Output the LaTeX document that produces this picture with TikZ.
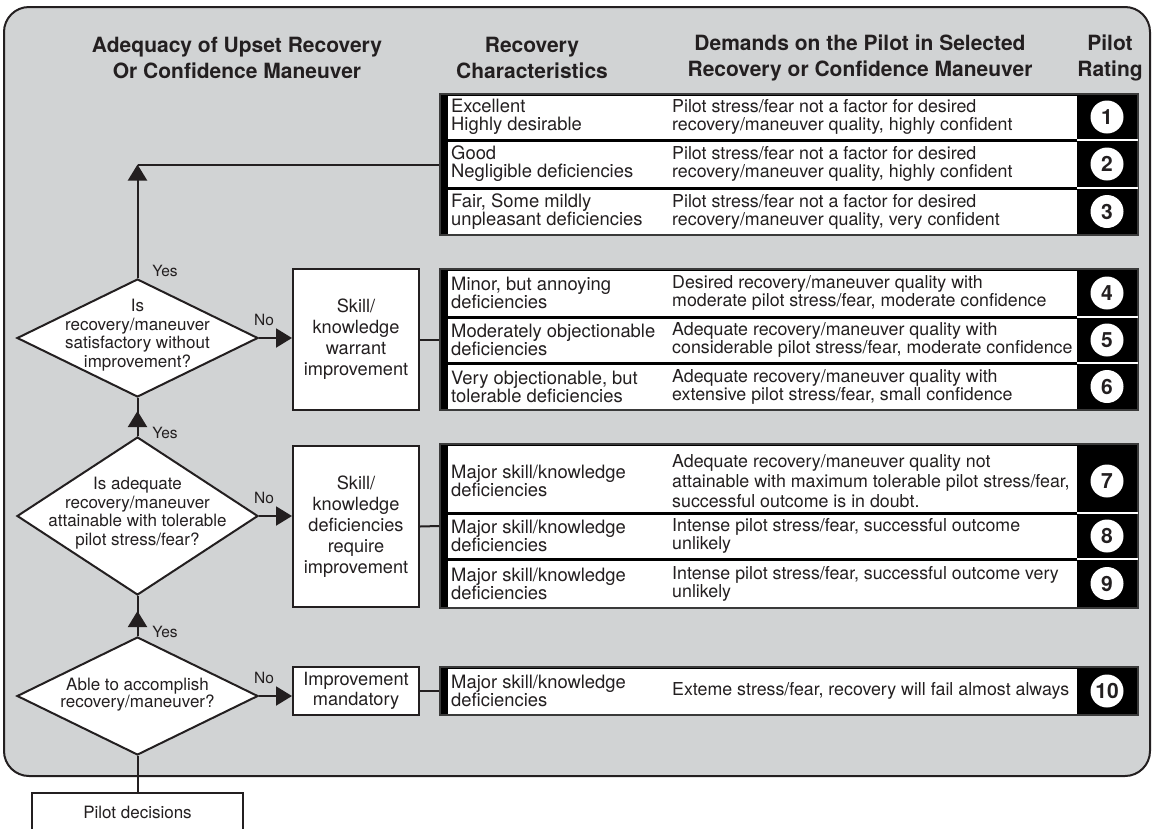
\documentclass[tikz,border=0pt]{standalone}
\usepackage{fontspec}
\setmainfont{TeX Gyre Heros}
\usetikzlibrary{arrows.meta,shapes.geometric}
\definecolor{ink}{HTML}{231F20}
\definecolor{panelgray}{HTML}{D1D3D4}
\definecolor{rimgray}{HTML}{3A3A3A}
% #1 top, #2 bottom, #3 centre, #4 number, #5 first column, #6 second column
\newcommand{\tabrow}[6]{%
  \fill[white] (448,#1+1.5) rectangle (1077,#2-1.5);
  \node[num] at (1107,#3) {#4};
  \node[colA] at (451,#3) {#5};
  \node[colB] at (672,#3) {#6};
}
\begin{document}
\begin{tikzpicture}[x=1pt,y=-1pt,
  ln/.style={draw=ink,line width=2pt},
  arr/.style={ln,-{Triangle[length=16pt,width=19pt]}},
  dia/.style={diamond,draw=ink,line width=2pt,fill=white,inner sep=0pt,minimum width=241pt},
  dtxt/.style={align=center,inner sep=0pt,font=\fontsize{17}{18.7}\selectfont,text=ink},
  sbox/.style={rectangle,draw=ink,line width=2pt,fill=white,inner sep=0pt,minimum width=126pt,align=center,font=\fontsize{18.2}{21}\selectfont,text=ink},
  lbl/.style={font=\fontsize{15.5}{16}\selectfont,text=ink},
  hdr/.style={align=center,inner sep=0pt,font=\bfseries\fontsize{21}{26}\selectfont,text=ink},
  grp/.style={rectangle,fill=black,draw=rimgray,line width=1.5pt,inner sep=0pt,minimum width=698pt},
  num/.style={circle,fill=white,inner sep=0pt,minimum size=33pt,font=\bfseries\fontsize{21}{21}\selectfont,text=ink},
  colA/.style={anchor=west,align=left,inner sep=0pt,font=\fontsize{18.4}{18}\selectfont,text=ink},
  colB/.style={anchor=west,align=left,inner sep=0pt,font=\fontsize{17.8}{18}\selectfont,text=ink},
  sepw/.style={draw=white,line width=1.5pt},
]
\useasboundingbox (0,0) rectangle (1154,828);
\clip (0,0) rectangle (1154,828);

% panel
\draw[ln,fill=panelgray,rounded corners=25pt] (4,7) rectangle (1150,776);

% headings
\node[hdr] (h1) at (237,58) {Adequacy of Upset Recovery\\Or Confidence Maneuver};
\node[hdr] (h2) at (532,58) {Recovery\\Characteristics};
\node[hdr] (h3) at (860,58) {Demands on the Pilot in Selected\\Recovery or Confidence Maneuver};
\node[hdr] (h4) at (1110,58) {Pilot\\Rating};

% table groups
\node[grp,minimum height=141pt] (g1) at (789,164.5) {};
\node[grp,minimum height=141pt] (g2) at (789,339.5) {};
\node[grp,minimum height=164pt] (g3) at (789,526) {};
\node[grp,minimum height=48pt]  (g4) at (789,691) {};

\tabrow{94}{140}{117}{1}{Excellent\\Highly desirable}{Pilot stress/fear not a factor for desired\\recovery/maneuver quality, highly confident}
\tabrow{140}{188}{164}{2}{Good\\Negligible deficiencies}{Pilot stress/fear not a factor for desired\\recovery/maneuver quality, highly confident}
\tabrow{188}{235}{211.5}{3}{Fair, Some mildly\\unpleasant deficiencies}{Pilot stress/fear not a factor for desired\\recovery/maneuver quality, very confident}
\tabrow{269}{317}{293}{4}{Minor, but annoying\\deficiencies}{Desired recovery/maneuver quality with\\moderate pilot stress/fear, moderate confidence}
\tabrow{317}{363}{340}{5}{Moderately objectionable\\deficiencies}{Adequate recovery/maneuver quality with\\considerable pilot stress/fear, moderate confidence}
\tabrow{363}{410}{386.5}{6}{Very objectionable, but\\tolerable deficiencies}{Adequate recovery/maneuver quality with\\extensive pilot stress/fear, small confidence}
\tabrow{444}{513}{481}{7}{Major skill/knowledge\\deficiencies}{}
\node[colB,font=\fontsize{17.8}{20}\selectfont] at (672,481) {Adequate recovery/maneuver quality not\\attainable with maximum tolerable pilot stress/fear,\\successful outcome is in doubt.};
\tabrow{513}{559}{536}{8}{Major skill/knowledge\\deficiencies}{Intense pilot stress/fear, successful outcome\\unlikely}
\tabrow{559}{608}{583.5}{9}{Major skill/knowledge\\deficiencies}{Intense pilot stress/fear, successful outcome very\\unlikely}
\tabrow{667}{715}{691}{10}{Major skill/knowledge\\deficiencies}{Exteme stress/fear, recovery will fail almost always}

\foreach \yy in {140,188,317,363,513,559} \draw[sepw] (1077,\yy) -- (1138,\yy);

% decision diamonds
\node[dia,minimum height=118pt] (d1) at (137.5,338) {};
\node[dtxt] at ([yshift=3pt]d1.center) {Is\\recovery/maneuver\\satisfactory without\\improvement?};
\node[dia,minimum height=158pt] (d2) at (137.5,516) {};
\node[dtxt] at ([yshift=3pt]d2.center) {Is adequate\\recovery/maneuver\\attainable with tolerable\\pilot stress/fear?};
\node[dia,minimum height=118pt] (d3) at (137.5,696) {};
\node[dtxt,font=\fontsize{17}{17}\selectfont] at ([yshift=1pt]d3.center) {Able to accomplish\\recovery/maneuver?};

% improvement boxes
\node[sbox,minimum height=141pt] (b1) at (356,339.5) {Skill/\\knowledge\\warrant\\improvement};
\node[sbox,minimum height=161pt] (b2) at (356,526.5) {Skill/\\knowledge\\deficiencies\\require\\improvement};
\node[sbox,minimum height=48pt,font=\fontsize{18.2}{20}\selectfont] (b3) at (356,691) {Improvement\\mandatory};

% pilot decisions box
\node[sbox,minimum width=211pt,minimum height=72pt,anchor=north] (pd) at (137.5,792) {};
\node[font=\fontsize{17}{18}\selectfont,text=ink] at ([yshift=-20pt]pd.north) {Pilot decisions};

% connectors
\coordinate (tc) at (137.5,164.5);
\draw[ln] (tc) -- (g1.west);
\draw[arr] (d1.north) -- (tc);
\draw[ln] (d2.north) -- (d1.south);
\draw[arr,shorten >=13pt] (d2.north) -- (d1.south);
\draw[ln] (d3.north) -- (d2.south);
\draw[arr,shorten >=15pt] (d3.north) -- (d2.south);
\draw[arr] (d1.east) -- (d1.east -| b1.west);
\draw[arr] (d2.east) -- (d2.east -| b2.west);
\draw[arr] (d3.east) -- (d3.east -| b3.west);
\draw[ln] (b1.east) -- (g2.west);
\draw[ln] (b2.east) -- (g3.west);
\draw[ln] (b3.east) -- (g4.west);
\draw[ln] (pd.north) -- (d3.south);

% labels
\node[lbl] at (165,271) {Yes};
\node[lbl] at (165,433) {Yes};
\node[lbl] at (165,632) {Yes};
\node[lbl] at (264,320) {No};
\node[lbl] at (264,498) {No};
\node[lbl] at (264,678) {No};
\end{tikzpicture}
\end{document}
